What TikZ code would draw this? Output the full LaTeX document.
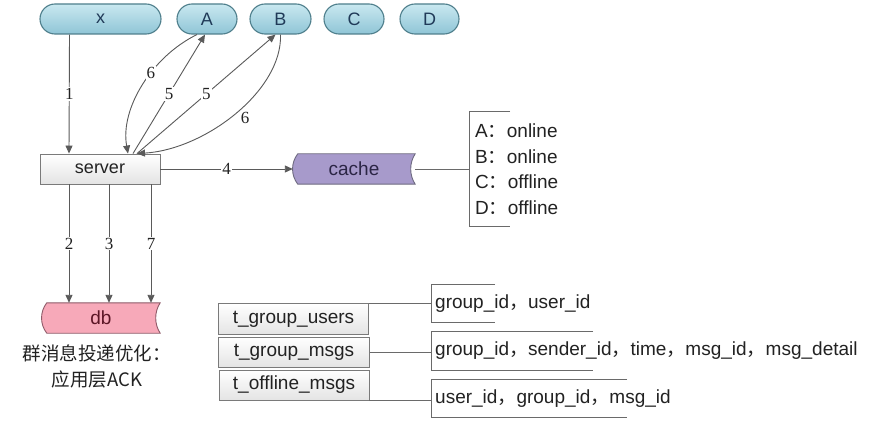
\documentclass[tikz,border=0pt]{standalone}
\usepackage{fontspec}
\setmainfont{Liberation Sans}
\newfontfamily\cjk{Noto Sans CJK SC}
\newfontfamily\numfont{Liberation Serif}
\usetikzlibrary{arrows.meta,calc}
\pgfdeclarelayer{bg}
\pgfsetlayers{bg,main}
\definecolor{pilltop}{HTML}{C9E8F0}
\definecolor{pillbot}{HTML}{8FC5D6}
\definecolor{pillborder}{HTML}{4F7F8C}
\definecolor{pilltext}{HTML}{203A58}
\definecolor{cachefill}{HTML}{A79ACB}
\definecolor{cacheborder}{HTML}{6E6A80}
\definecolor{cachetext}{HTML}{2B2545}
\definecolor{dbfill}{HTML}{F7A9B9}
\definecolor{dbborder}{HTML}{8E5A68}
\definecolor{dbtext}{HTML}{5C1626}
\definecolor{boxborder}{HTML}{7A7A7A}
\definecolor{boxbot}{HTML}{E4E4E4}
\definecolor{arrowc}{HTML}{5A5A5A}
\definecolor{linec}{HTML}{6A6A6A}
\definecolor{txt}{HTML}{222222}
\newcommand{\zc}{{\cjk ，}}
\newcommand{\zcol}{{\cjk ：}}
\begin{document}
\begin{tikzpicture}[x=1pt,y=-1pt,
  pill/.style={rounded corners=15pt, draw=pillborder, line width=1.1pt, top color=pilltop, bottom color=pillbot,
    minimum height=30pt, inner sep=0pt, text=pilltext, font=\fontsize{18}{20}\selectfont},
  boxnode/.style={draw=boxborder, line width=0.9pt, top color=white, bottom color=boxbot,
    minimum height=30pt, inner sep=0pt, text=txt, font=\fontsize{18}{20}\selectfont},
  tablenode/.style={boxnode, font=\fontsize{19}{21}\selectfont},
  store/.style={minimum height=30pt, inner sep=0pt, font=\fontsize{19}{21}\selectfont},
  arr/.style={draw=arrowc, line width=0.9pt, -{Triangle[length=8pt,width=7pt]}},
  plain/.style={draw=linec, line width=0.9pt},
  lbl/.style={fill=white, inner sep=1pt, text=txt, font=\numfont\fontsize{17}{19}\selectfont},
  lblnf/.style={inner sep=1pt, text=txt, font=\numfont\fontsize{17}{19}\selectfont},
  fields/.style={anchor=west, inner xsep=4pt, inner ysep=0pt, text=txt, font=\fontsize{19}{21}\selectfont}
]
\useasboundingbox (0,0) rectangle (871,425);

% top pills
\node[pill, minimum width=121pt] (xn) at (100.5,19) {x};
\node[pill, minimum width=60pt] (A) at (207,19) {A};
\node[pill, minimum width=61pt] (B) at (280.5,19) {B};
\node[pill, minimum width=60pt] (C) at (354,19) {C};
\node[pill, minimum width=59pt] (D) at (429.5,19) {D};

% server
\node[boxnode, minimum width=120pt] (server) at (100,169) {server};

% cache and db
\node[store, minimum width=122pt, text=cachetext] (cache) at (354,169) {cache};
\node[store, minimum width=118pt, text=dbtext] (db) at (101,318) {db};

\begin{pgfonlayer}{bg}
\fill[white] (0,0) rectangle (871,425);
\draw[fill=cachefill, draw=cacheborder, line width=0.9pt]
  ([xshift=5pt]cache.north west) -- (cache.north east)
  .. controls +(-6,9) and +(-6,-9) .. (cache.south east)
  -- ([xshift=5pt]cache.south west)
  .. controls +(-7,-9) and +(-7,9) .. ([xshift=5pt]cache.north west) -- cycle;
\draw[fill=dbfill, draw=dbborder, line width=0.9pt]
  ([xshift=5pt]db.north west) -- (db.north east)
  .. controls +(-6,9) and +(-6,-9) .. (db.south east)
  -- ([xshift=5pt]db.south west)
  .. controls +(-7,-9) and +(-7,9) .. ([xshift=5pt]db.north west) -- cycle;
\end{pgfonlayer}

% caption
\node[align=center, font=\cjk\fontsize{18.5}{26}\selectfont, text=txt] (cap) at (97,366) {群消息投递优化：\\应用层ACK};

% arrow 1
\draw[arr] ([xshift=-31pt]xn.south) -- ([xshift=-31pt]server.north) node[midway,lbl] {1};

% arrows 5 and 6
\draw[arr] ([xshift=33pt]server.north) -- ([xshift=-2pt]A.south) node[pos=0.5,lbl] {5};
\draw[arr] ([xshift=37pt]server.north) -- ([xshift=-5pt]B.south) node[pos=0.5,lbl] {5};
\draw[arr] ([xshift=-10pt]A.south) .. controls +(-45,22) and +(-8,-45) .. ([xshift=28pt]server.north)
  node[pos=0.4,lbl] {6};
\draw[arr] (B.south) .. controls +(2,56) and +(68,-4) .. ([xshift=37pt]server.north)
  node[pos=0.5,lblnf,xshift=10pt,yshift=-4pt] {6};

% arrow 4
\draw[arr] (server.east) -- (cache.west) node[midway,lbl] {4};

% arrows 2 3 7
\draw[arr] ([xshift=-31pt]server.south) -- ([xshift=-31pt]server.south |- db.north) node[midway,lbl] {2};
\draw[arr] ([xshift=9pt]server.south) -- ([xshift=9pt]server.south |- db.north) node[midway,lbl] {3};
\draw[arr] ([xshift=51pt]server.south) -- ([xshift=51pt]server.south |- db.north) node[midway,lbl] {7};

% status list
\node[anchor=west, align=left, minimum height=114pt, inner xsep=6pt, inner ysep=0pt, text=txt,
  font=\fontsize{19}{25.5}\selectfont] (status) at (469,169)
  {A\zcol online\\B\zcol online\\C\zcol offline\\D\zcol offline};
\draw[plain] ([xshift=41pt]status.north west) -- (status.north west) -- (status.south west) -- ([xshift=41pt]status.south west);
\draw[plain] (cache.east) -- (status.west);

% tables
\node[tablenode, minimum width=150pt, minimum height=31pt] (tg1) at (293.5,319) {t\_group\_users};
\node[tablenode, minimum width=151pt] (tg2) at (294,352) {t\_group\_msgs};
\node[tablenode, minimum width=150pt] (tg3) at (294,385) {t\_offline\_msgs};

\node[fields, minimum height=37pt] (f1) at (431,303.5) {group\_id\zc user\_id};
\node[fields, minimum height=38pt] (f2) at (431,351) {group\_id\zc sender\_id\zc time\zc msg\_id\zc msg\_detail};
\node[fields, minimum height=37pt] (f3) at (431,398.5) {user\_id\zc group\_id\zc msg\_id};

\draw[plain] ([xshift=64pt]f1.north west) -- (f1.north west) -- (f1.south west) -- ([xshift=64pt]f1.south west);
\draw[plain] ([xshift=162pt]f2.north west) -- (f2.north west) -- (f2.south west) -- ([xshift=162pt]f2.south west);
\draw[plain] ([xshift=196pt]f3.north west) -- (f3.north west) -- (f3.south west) -- ([xshift=196pt]f3.south west);

\draw[plain] (tg1.north east) -- (tg1.north east -| f1.west);
\draw[plain] (tg2.east) -- (tg2.east -| f2.west);
\draw[plain] (tg3.south east) -- (tg3.south east -| f3.west);
\end{tikzpicture}
\end{document}
